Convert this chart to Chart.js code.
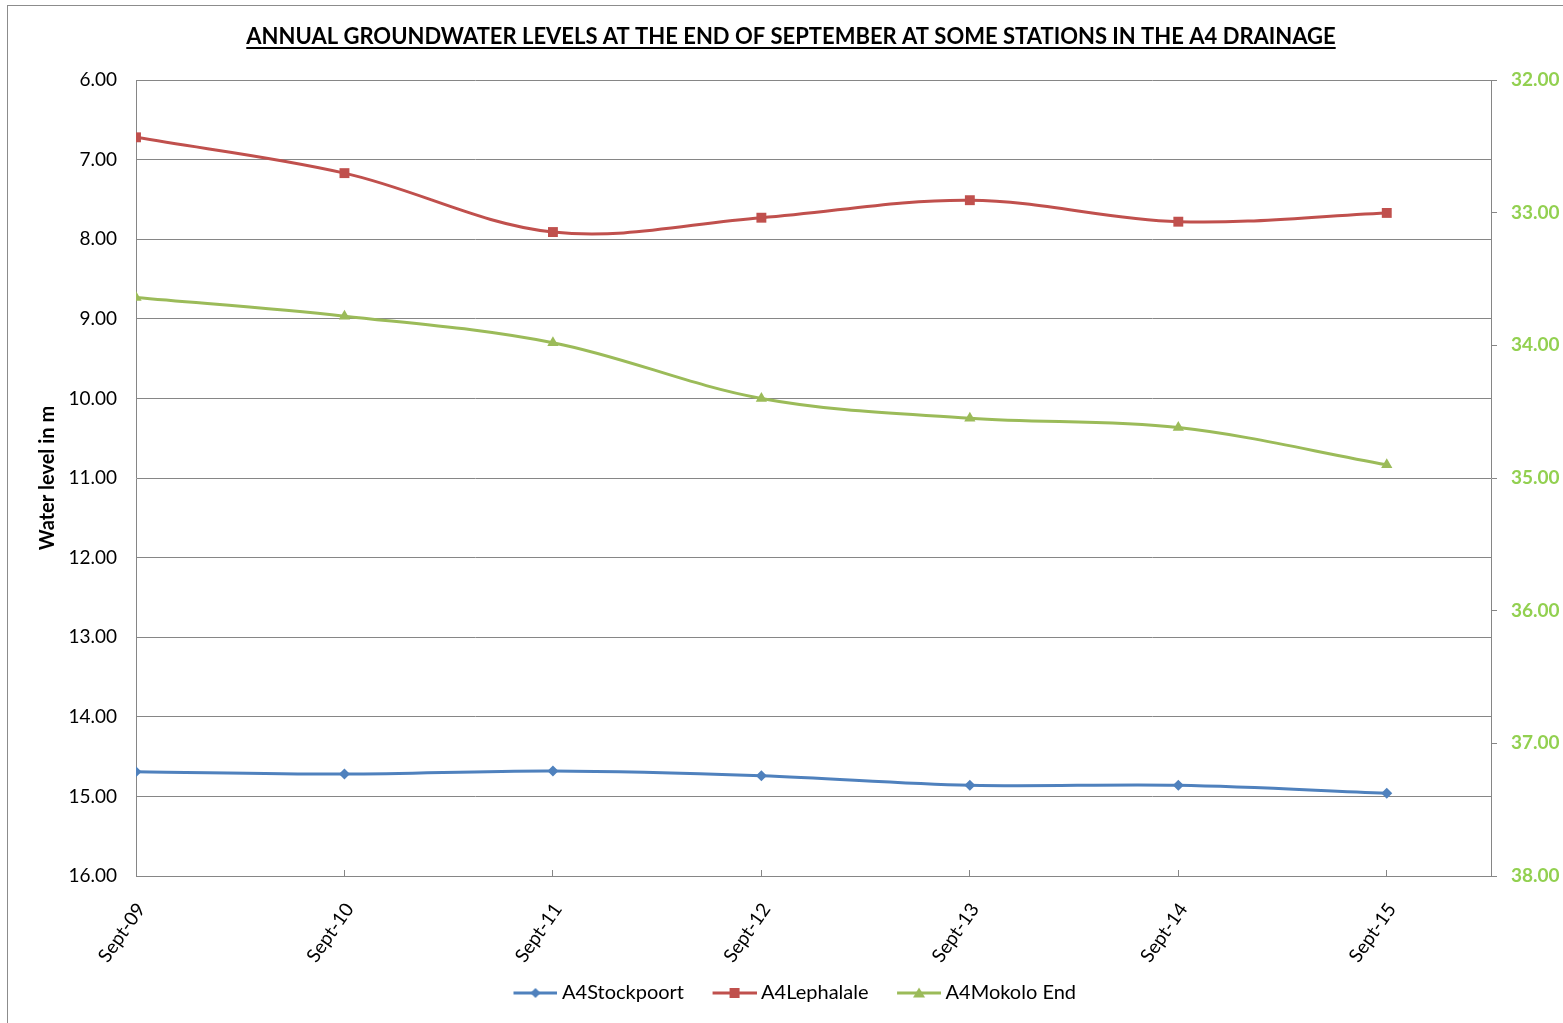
<!DOCTYPE html>
<html><head><meta charset="utf-8">
<script src="https://cdn.jsdelivr.net/npm/chart.js@4.4.0/dist/chart.umd.min.js"></script>
<style>
html,body{margin:0;padding:0;background:#fff;overflow:hidden;}
#wrap{position:absolute;left:0;top:0;width:1563px;height:1023px;overflow:hidden;}
#frame{position:absolute;left:7px;top:5px;width:1600px;height:1100px;border:1px solid #8c8c8c;}
canvas{position:absolute;left:0;top:0;}
</style></head><body>
<div id="wrap"><div id="frame"></div><canvas id="c" width="1563" height="1023"></canvas></div>
<script>
const TITLE = 'ANNUAL GROUNDWATER LEVELS AT THE END OF SEPTEMBER AT SOME STATIONS IN THE A4 DRAINAGE';
const categories = ['Sept-09','Sept-10','Sept-11','Sept-12','Sept-13','Sept-14','Sept-15'];
const stockpoort = [14.69, 14.72, 14.68, 14.74, 14.86, 14.86, 14.96];
const lephalale  = [6.72, 7.17, 7.91, 7.73, 7.51, 7.78, 7.67];
const mokoloEnd  = [33.64, 33.78, 33.98, 34.40, 34.55, 34.62, 34.90];
const leftRange  = [6, 16];
const rightRange = [32, 38];

const FONT = 'Lato';
const BLUE = '#4F81BD', RED = '#C0504D', GREEN = '#9BBB59', AXISGREEN = '#92D050';

function toXY(arr){ return arr.map((v,i)=>({x:i, y:v})); }

function legendIcon(color, style){
  const c = document.createElement('canvas');
  c.width = 66; c.height = 14;
  const g = c.getContext('2d');
  g.translate(22, 0);
  g.strokeStyle = color; g.lineWidth = 3;
  g.beginPath(); g.moveTo(0,7); g.lineTo(44,7); g.stroke();
  g.fillStyle = color;
  g.beginPath();
  if (style === 'rectRot'){ g.moveTo(22,2); g.lineTo(27,7); g.lineTo(22,12); g.lineTo(17,7); g.closePath(); }
  else if (style === 'rect'){ g.rect(17,2,10,10); }
  else { g.moveTo(22,1.5); g.lineTo(28,11.5); g.lineTo(16,11.5); g.closePath(); }
  g.fill();
  return c;
}

const titlePlugin = {
  id: 'titleUnderline',
  afterDraw(chart){
    const ctx = chart.ctx;
    ctx.save();
    ctx.font = 'bold 22px ' + FONT;
    ctx.fillStyle = '#000';
    ctx.textAlign = 'center';
    ctx.textBaseline = 'alphabetic';
    const x = 791, y = 44;
    ctx.fillText(TITLE, x, y);
    const w = ctx.measureText(TITLE).width;
    ctx.fillRect(x - w/2, y + 3, w, 2);
    ctx.restore();
  }
};

const datasets = [
  {label:'A4Stockpoort', data: toXY(stockpoort), yAxisID:'y', borderColor: BLUE, backgroundColor: BLUE, pointStyle:'rectRot', pointRadius:5.5},
  {label:'A4Lephalale', data: toXY(lephalale), yAxisID:'y', borderColor: RED, backgroundColor: RED, pointStyle:'rect', pointRadius:7},
  {label:'A4Mokolo End', data: toXY(mokoloEnd), yAxisID:'y1', borderColor: GREEN, backgroundColor: GREEN, pointStyle:'triangle', pointRadius:6.5}
];
datasets.forEach(d=>{ d.borderWidth = 3; d.tension = 0.35; d.pointBorderWidth = 0; d.pointHoverRadius = d.pointRadius; d.fill = false; d.icon = legendIcon(d.borderColor, d.pointStyle); });

Chart.defaults.font.family = FONT;
Chart.defaults.font.size = 19;
Chart.defaults.color = '#000';

new Chart(document.getElementById('c'), {
  type: 'line',
  data: { datasets },
  plugins: [titlePlugin],
  options: {
    responsive: false,
    animation: false,
    layout: { padding: { top: 80, left: 10, right: 0, bottom: 10 } },
    plugins: {
      title: { display: false },
      tooltip: { enabled: false },
      legend: {
        position: 'bottom',
        labels: {
          usePointStyle: true,
          pointStyleWidth: 55,
          padding: 12,
          font: { size: 20, family: FONT },
          color: '#000',
          generateLabels(chart){
            return chart.data.datasets.map((d,i)=>({
              text: d.label, pointStyle: d.icon, fillStyle: d.borderColor, strokeStyle: d.borderColor,
              lineWidth: 0, hidden: false, datasetIndex: i, fontColor: '#000'
            }));
          }
        }
      }
    },
    scales: {
      x: {
        type: 'linear', min: 0, max: 6.5,
        afterBuildTicks(scale){ scale.ticks = categories.map((_,i)=>({value:i})); },
        afterFit(scale){ scale.height = 95; },
        grid: { drawOnChartArea: false, drawTicks: true, tickLength: -6, color: '#868686' },
        border: { color: '#868686', width: 1 },
        ticks: { minRotation: 55, maxRotation: 55, padding: 29, labelOffset: 5, autoSkip: false, font: { size: 19 }, color: '#000',
          callback(v){ return categories[v]; } }
      },
      y: {
        position: 'left', reverse: true, min: leftRange[0], max: leftRange[1],
        afterFit(scale){ scale.width = 126; },
        grid: { color: '#868686', drawTicks: false, lineWidth: 1 },
        border: { color: '#868686' },
        ticks: { stepSize: 1, padding: 19, font: { size: 19 }, color: '#000', callback(v){ return Number(v).toFixed(2); } },
        title: { display: true, text: 'Water level in m', font: { size: 20, weight: 'bold' }, color: '#000', padding: { top: 26, bottom: 0 } }
      },
      y1: {
        position: 'right', reverse: true, min: rightRange[0], max: rightRange[1],
        afterFit(scale){ scale.width = 72; },
        grid: { drawOnChartArea: false, drawTicks: true, tickLength: 6, color: '#868686' },
        border: { color: '#868686' },
        ticks: { stepSize: 1, padding: 14, font: { size: 19, weight: 'bold' }, color: AXISGREEN, callback(v){ return Number(v).toFixed(2); } }
      }
    }
  }
});
</script>
</body></html>
